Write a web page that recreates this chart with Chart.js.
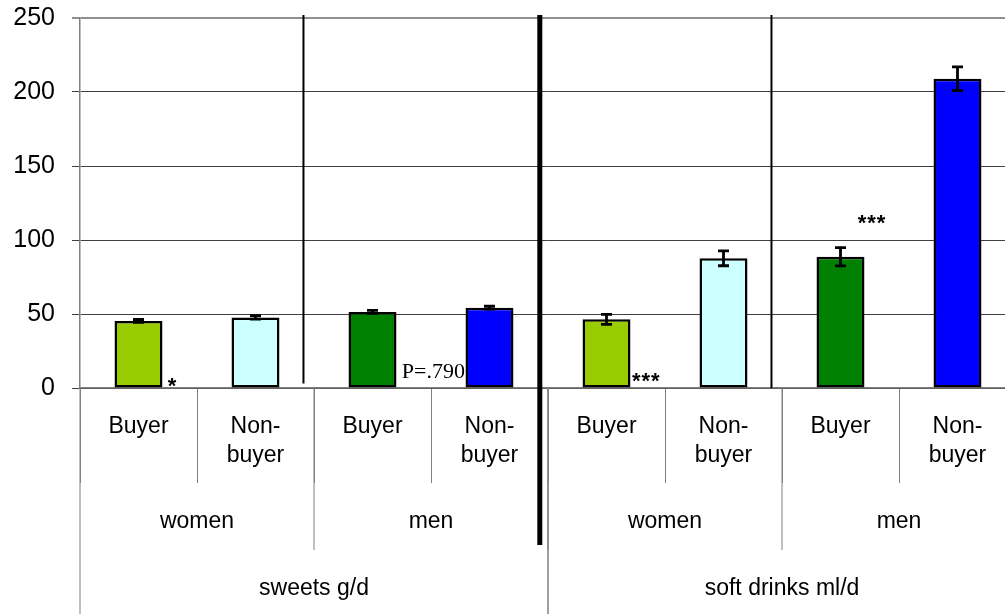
<!DOCTYPE html>
<html>
<head>
<meta charset="utf-8">
<script src="https://cdn.jsdelivr.net/npm/chart.js@4"></script>
<style>
    html, body { margin: 0; padding: 0; background: #fff; overflow: hidden; }
    #box { width: 1016px; height: 614px; position: relative; }
</style>
</head>
<body>
<div id="box"><canvas id="grafico"></canvas></div>
<script>
// categorias (nível 1) e grupos (níveis 2 e 3)
var categorias = [['Buyer'], ['Non-', 'buyer'], ['Buyer'], ['Non-', 'buyer'],
                  ['Buyer'], ['Non-', 'buyer'], ['Buyer'], ['Non-', 'buyer']];
var sexos = ['women', 'men', 'women', 'men'];
var produtos = ['sweets g/d', 'soft drinks ml/d'];

// valores
var medias = [45.3, 47.7, 51.4, 54.3, 46.4, 87.6, 88.7, 209];
var erros = [1.0, 1.2, 1.0, 1.0, 3.4, 5.0, 6.2, 8.0];
var cores = ['#99CC00', '#CCFFFF', '#008000', '#0000FF', '#99CC00', '#CCFFFF', '#008000', '#0000FF'];
var ticksY = [0, 50, 100, 150, 200, 250];

// anotações: texto, índice da categoria, valor
var anotacoes = [
    { texto: '*', x: 0.29, y: 4, serif: false },
    { texto: 'P=.790', x: 2.52, y: 11, serif: true },
    { texto: '***', x: 4.34, y: 7.5, serif: false },
    { texto: '***', x: 6.27, y: 114, serif: false }
];

// linhas verticais separadoras: índice, valor do topo, valor da base (null = abaixo do eixo), espessura
var separadores = [
    { x: 1.41, topo: 252, base: 3, largura: 2 },
    { x: 3.43, topo: 252, base: null, largura: 5 },
    { x: 5.41, topo: 252, base: 0, largura: 2 }
];

var fonte = 'Liberation Sans, Arial, sans-serif';

var pluginExtras = {
    id: 'extras',
    afterDatasetsDraw: function(chart) {
        var ctx = chart.ctx;
        var xs = chart.scales.x;
        var ys = chart.scales.y;
        var area = chart.chartArea;

        // barras de erro
        ctx.save();
        ctx.strokeStyle = '#000';
        ctx.lineWidth = 2.8;
        for (var i = 0; i < medias.length; i++) {
            var px = xs.getPixelForValue(i);
            var yt = ys.getPixelForValue(medias[i] + erros[i]);
            var yb = ys.getPixelForValue(medias[i] - erros[i]);
            ctx.beginPath();
            ctx.moveTo(px, yt); ctx.lineTo(px, yb);
            ctx.moveTo(px - 5.5, yt); ctx.lineTo(px + 5.5, yt);
            ctx.moveTo(px - 5.5, yb); ctx.lineTo(px + 5.5, yb);
            ctx.stroke();
        }
        ctx.restore();

        // linhas separadoras
        ctx.save();
        ctx.strokeStyle = '#000';
        separadores.forEach(function(s) {
            var px = xs.getPixelForValue(s.x);
            ctx.lineWidth = s.largura;
            ctx.beginPath();
            ctx.moveTo(px, ys.getPixelForValue(s.topo));
            ctx.lineTo(px, s.base === null ? area.bottom + 157 : ys.getPixelForValue(s.base));
            ctx.stroke();
        });
        ctx.restore();

        // anotações
        ctx.save();
        ctx.fillStyle = '#000';
        ctx.textAlign = 'center';
        ctx.textBaseline = 'middle';
        anotacoes.forEach(function(a) {
            if (a.serif) {
                ctx.font = '22px Liberation Serif, Times New Roman, serif';
                ctx.letterSpacing = '0px';
                ctx.fillText(a.texto, xs.getPixelForValue(a.x), ys.getPixelForValue(a.y));
            } else {
                ctx.font = 'bold 22px ' + fonte;
                ctx.letterSpacing = '1px';
                ctx.fillText(a.texto, xs.getPixelForValue(a.x), ys.getPixelForValue(a.y) + 5);
            }
        });
        ctx.restore();

        // níveis 2 e 3 do eixo x
        ctx.save();
        ctx.strokeStyle = '#808080';
        ctx.lineWidth = 1;
        ctx.fillStyle = '#000';
        ctx.font = '23px ' + fonte;
        ctx.textAlign = 'center';
        ctx.textBaseline = 'middle';
        var base = area.bottom;
        sexos.forEach(function(s, k) {
            var fim = xs.getPixelForValue(k * 2 + 1.5);
            ctx.beginPath();
            ctx.moveTo(fim, base);
            ctx.lineTo(fim, base + 162);
            ctx.stroke();
            ctx.fillText(s, xs.getPixelForValue(k * 2 + 0.5), base + 134);
        });
        produtos.forEach(function(p, k) {
            var ini = xs.getPixelForValue(k * 4 - 0.5);
            var fim = xs.getPixelForValue(k * 4 + 3.5);
            ctx.beginPath();
            ctx.moveTo(ini, base);
            ctx.lineTo(ini, chart.height);
            ctx.moveTo(fim, base);
            ctx.lineTo(fim, chart.height);
            ctx.stroke();
            ctx.fillText(p, xs.getPixelForValue(k * 4 + 1.5), base + 201);
        });
        ctx.restore();
    }
};

var config = {
    type: 'bar',
    data: {
        labels: categorias,
        datasets: [{
            data: medias,
            backgroundColor: cores,
            borderColor: '#000',
            borderWidth: 2.5,
            borderSkipped: false,
            barPercentage: 0.41,
            categoryPercentage: 1
        }]
    },
    options: {
        responsive: true,
        maintainAspectRatio: false,
        animation: false,
        layout: { padding: { top: 0, right: 0, bottom: 0, left: 0 } },
        plugins: {
            legend: { display: false },
            tooltip: { enabled: false }
        },
        scales: {
            x: {
                offset: true,
                grid: {
                    offset: true,
                    drawOnChartArea: false,
                    tickLength: 95,
                    color: '#808080',
                    lineWidth: 1
                },
                border: { color: '#808080', width: 1.5 },
                ticks: {
                    autoSkip: false,
                    maxRotation: 0,
                    minRotation: 0,
                    padding: -71,
                    color: '#000',
                    font: { family: fonte, size: 23, lineHeight: 1.27 }
                },
                afterFit: function(scale) { scale.height = 226; }
            },
            y: {
                min: 0,
                max: 250,
                afterBuildTicks: function(scale) {
                    scale.ticks = ticksY.map(function(v) { return { value: v }; });
                },
                grid: {
                    color: function(c) { return c.tick.value === 250 ? '#909090' : '#404040'; },
                    lineWidth: function(c) { return c.tick.value === 250 ? 2 : 1; },
                    tickLength: 8
                },
                border: { color: '#808080', width: 1.5 },
                ticks: {
                    padding: 17,
                    color: '#000',
                    font: { family: fonte, size: 25 }
                },
                afterFit: function(scale) {
                    scale.width = 80;
                    scale.paddingTop = 18;
                    scale.paddingBottom = 0;
                }
            }
        }
    },
    plugins: [pluginExtras]
};

function plotarGrafico() {
    var ctx = document.getElementById('grafico').getContext('2d');
    window.grafico = new Chart(ctx, config);
}

plotarGrafico();
</script>
</body>
</html>
